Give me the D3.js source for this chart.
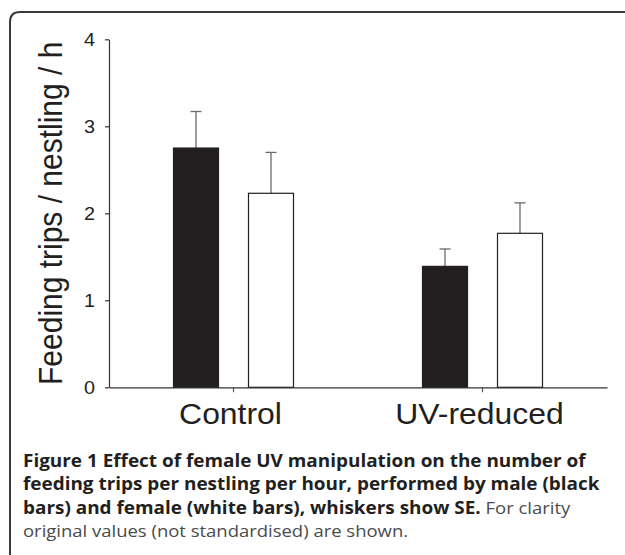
<!DOCTYPE html>
<html lang="en">

<head>
    <meta charset="utf-8">
    <title>Feeding trips per nestling</title>
    <script type="text/javascript" src="https://d3js.org/d3.v7.min.js"></script>
    <style type="text/css">
        body { margin: 0; background: #fff; }
        svg { display: block; }
    </style>
</head>

<body>
    <script type="text/javascript">
        var categories = ["Control", "UV-reduced"];
        var series = ["male", "female"];
        var maleMeans = [2.75, 1.39];
        var maleSE = [0.42, 0.20];
        var femaleMeans = [2.23, 1.77];
        var femaleSE = [0.47, 0.35];
        var yTicks = [0, 1, 2, 3, 4];
        var yLabel = "Feeding trips / nestling / h";

        var width = 625, height = 555;
        var margin = { top: 39.3, right: 18, bottom: 167.7, left: 109 };
        var stretch = 1.1; // the original figure is a bit wide-scaled
        var ink = "#231f20";

        var svg = d3.select("body")
            .append("svg")
            .attr("width", width)
            .attr("height", height);

        // frame with rounded top-left corner (runs off right and bottom)
        svg.append("path")
            .attr("d", "M10,560 L10,22 Q10,12 20,12 L630,12")
            .attr("fill", "none")
            .attr("stroke", "#3a3a3a")
            .attr("stroke-width", 2);

        var x = d3.scaleBand()
            .domain(categories)
            .range([margin.left, width - margin.right]);

        var xs = d3.scaleBand()
            .domain(series)
            .range([-60, 60])
            .paddingInner(0.4);

        var y = d3.scaleLinear()
            .domain([0, 4])
            .range([height - margin.bottom, margin.top]);

        var rows = [];
        categories.forEach(function(c, i) {
            rows.push({ cat: c, s: "male", mean: maleMeans[i], se: maleSE[i] });
            rows.push({ cat: c, s: "female", mean: femaleMeans[i], se: femaleSE[i] });
        });

        function cx(d) {
            return x(d.cat) + x.bandwidth() / 2 + xs(d.s) + xs.bandwidth() / 2;
        }

        // whiskers
        var w = svg.append("g").selectAll("g")
            .data(rows)
            .enter().append("g")
            .attr("stroke", "#6b6b6b")
            .attr("stroke-width", 1.3);

        w.append("line")
            .attr("x1", cx)
            .attr("x2", cx)
            .attr("y1", function(d) { return y(d.mean); })
            .attr("y2", function(d) { return y(d.mean + d.se); });

        w.append("line")
            .attr("x1", function(d) { return cx(d) - 5.5; })
            .attr("x2", function(d) { return cx(d) + 5.5; })
            .attr("y1", function(d) { return y(d.mean + d.se); })
            .attr("y2", function(d) { return y(d.mean + d.se); });

        // bars
        svg.append("g").selectAll("rect")
            .data(rows)
            .enter().append("rect")
            .attr("x", function(d) { return x(d.cat) + x.bandwidth() / 2 + xs(d.s); })
            .attr("width", xs.bandwidth())
            .attr("y", function(d) { return y(d.mean); })
            .attr("height", function(d) { return y(0) - y(d.mean); })
            .attr("fill", function(d) { return d.s == "male" ? ink : "#fff"; })
            .attr("stroke", ink)
            .attr("stroke-width", 1.2);

        // y axis
        var yAxis = svg.append("g")
            .attr("transform", "translate(" + margin.left + ",0)")
            .call(d3.axisLeft(y).tickValues(yTicks).tickFormat(d3.format("d")).tickSize(4).tickSizeOuter(0).tickPadding(8.7));
        yAxis.selectAll("path, line").attr("stroke", "#333").attr("stroke-width", 1.2);
        yAxis.selectAll("text")
            .attr("fill", ink)
            .attr("font-family", "Liberation Sans, Arial, sans-serif")
            .attr("font-size", 18)
            .attr("transform", "scale(" + stretch + ",1)");

        // x axis
        var xAxis = svg.append("g")
            .attr("transform", "translate(0," + y(0) + ")")
            .call(d3.axisBottom(x).tickSize(5).tickSizeOuter(0).tickFormat(""));
        xAxis.selectAll("path").attr("stroke", "#333").attr("stroke-width", 1.2);
        xAxis.selectAll("line").attr("stroke", "#555").attr("stroke-width", 1.2);

        // category labels
        svg.append("g").selectAll("text")
            .data(categories)
            .enter().append("text")
            .attr("transform", function(d) {
                return "translate(" + (x(d) + x.bandwidth() / 2 - 3) + "," + (y(0) + 37) + ") scale(" + stretch + ",1)";
            })
            .attr("text-anchor", "middle")
            .attr("font-family", "Liberation Sans, Arial, sans-serif")
            .attr("font-size", 29)
            .attr("fill", ink)
            .text(function(d) { return d; });

        // y label
        svg.append("text")
            .attr("transform", "translate(62," + ((y(0) + y(4)) / 2) + ") scale(" + stretch + ",1) rotate(-90)")
            .attr("text-anchor", "middle")
            .attr("font-family", "Liberation Sans, Arial, sans-serif")
            .attr("font-size", 30)
            .attr("fill", ink)
            .text(yLabel);

        // caption
        var captionLines = [
            [["Figure 1 Effect of female UV manipulation on the number of", true]],
            [["feeding trips per nestling per hour, performed by male (black", true]],
            [["bars) and female (white bars), whiskers show SE.", true], [" For clarity", false]],
            [["original values (not standardised) are shown.", false]]
        ];

        var cap = svg.append("g")
            .attr("font-family", "Open Sans, Noto Sans, sans-serif");

        captionLines.forEach(function(parts, i) {
            var t = cap.append("text")
                .attr("transform", "translate(23," + (466.7 + i * 23.4) + ") scale(" + stretch + ",1)");
            parts.forEach(function(p) {
                t.append("tspan")
                    .attr("font-weight", p[1] ? "bold" : "normal")
                    .attr("font-size", p[1] ? 17.2 : 16.8)
                    .attr("fill", p[1] ? "#231f20" : "#4a4a4a")
                    .text(p[0]);
            });
        });
    </script>
</body>

</html>
